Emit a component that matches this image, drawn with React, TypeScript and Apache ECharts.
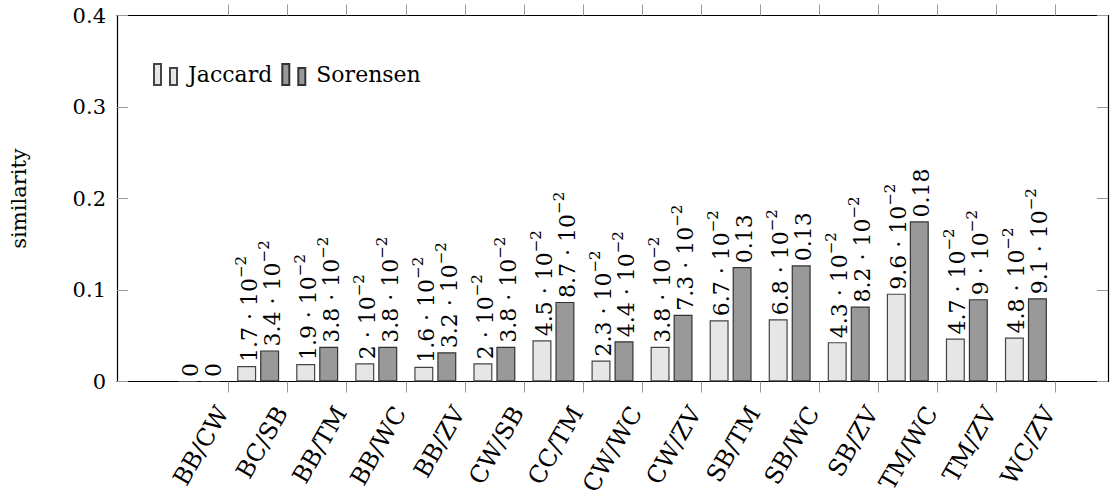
import React, { useEffect, useRef } from "react";
import * as echarts from "echarts";

const categories = [
  "BB/CW", "BC/SB", "BB/TM", "BB/WC", "BB/ZV", "CW/SB", "CC/TM", "CW/WC",
  "CW/ZV", "SB/TM", "SB/WC", "SB/ZV", "TM/WC", "TM/ZV", "WC/ZV",
];
const jaccard = [0, 0.017, 0.019, 0.02, 0.016, 0.02, 0.045, 0.023, 0.038, 0.067, 0.068, 0.043, 0.096, 0.047, 0.048];
const sorensen = [0, 0.034, 0.038, 0.038, 0.032, 0.038, 0.087, 0.044, 0.073, 0.125, 0.127, 0.082, 0.175, 0.09, 0.091];
const yTicks = [0, 0.1, 0.2, 0.3, 0.4];

const FONT = "DejaVu Serif";
const FS = 21;

function fmtValue(v: number): string {
  if (v === 0) return "{m|0}";
  if (v < 0.1) {
    const mant = Math.round(v * 1000 + 1e-9) / 10;
    return `{m|${mant} · 10}{s|−2}`;
  }
  return `{m|${(Math.round(v * 100 + 1e-9) / 100).toFixed(2)}}`;
}

const labelRich = {
  m: { fontFamily: FONT, fontSize: 22, color: "#000", lineHeight: 27, verticalAlign: "bottom" },
  s: { fontFamily: FONT, fontSize: 15, color: "#000", lineHeight: 15, verticalAlign: "top" },
};

export default function App() {
  const ref = useRef<HTMLDivElement>(null);
  useEffect(() => {
    document.body.style.margin = "0";
    if (!ref.current) return;
    const chart = echarts.init(ref.current, undefined, { renderer: "svg" });
    const tickValues = categories.map((_, i) => i + 0.5);
    const labelValues = categories.map((_, i) => i + 0.4);
    const xMin = -1.39;
    const xMax = categories.length - 1 + 1.39;
    const xCommon = {
      type: "value",
      min: xMin,
      max: xMax,
      splitLine: { show: false },
      axisLine: { show: true, onZero: false, lineStyle: { color: "#000", width: 1.2 } },
      axisTick: { show: true, inside: false, length: 11, customValues: tickValues, lineStyle: { color: "#999", width: 1 } },
    };
    const yCommon = {
      type: "value",
      min: 0,
      max: 0.4,
      interval: 0.1,
      splitLine: { show: false },
      axisLine: { show: true, onZero: false, lineStyle: { color: "#000", width: 1.2 } },
      axisTick: { show: true, inside: true, length: 11, lineStyle: { color: "#999", width: 1 } },
    };
    const mkSeries = (name: string, vals: number[], fill: string, border: string) => ({
      name,
      type: "bar",
      xAxisIndex: 0,
      yAxisIndex: 0,
      barWidth: 19,
      barGap: "21%",
      data: vals.map((v, i) => [i, v]),
      itemStyle: { color: fill, borderColor: border, borderWidth: 1.2 },
      label: {
        show: true,
        position: "top",
        rotate: 90,
        align: "left",
        verticalAlign: "middle",
        distance: 4,
        color: "#000",
        fontFamily: FONT,
        formatter: (p: any) => fmtValue(p.value[1]),
        rich: labelRich,
      },
    });
    chart.setOption({
      animation: false,
      textStyle: { fontFamily: FONT },
      grid: { left: 112, right: 2, top: 15.5, bottom: 120.5, containLabel: false },
      legend: {
        left: 148,
        top: 58,
        itemWidth: 23,
        itemHeight: 21,
        itemGap: 9,
        icon: "path://M0,0 L7,0 L7,21 L0,21 Z M16,4 L23,4 L23,21 L16,21 Z",
        textStyle: { fontFamily: FONT, fontSize: 22, color: "#000", padding: [0, 0, 0, 6] },
        data: ["Jaccard", "Sorensen"],
      },
      xAxis: [
        {
          ...xCommon,
          position: "bottom",
          axisLabel: {
            customValues: labelValues,
            rotate: 60,
            margin: 27,
            fontFamily: FONT,
            fontSize: 24,
            color: "#000",
            formatter: (v: number) => categories[Math.round(v)] ?? "",
          },
        },
        { ...xCommon, position: "top", axisLabel: { show: false } },
      ],
      yAxis: [
        {
          ...yCommon,
          position: "left",
          name: "similarity",
          nameLocation: "middle",
          nameRotate: 90,
          nameGap: 88,
          nameTextStyle: { fontFamily: FONT, fontSize: FS, color: "#000" },
          axisLabel: {
            margin: 11,
            fontFamily: FONT,
            fontSize: FS,
            color: "#000",
            customValues: yTicks,
            formatter: (v: number) => (v === 0 ? "0" : String(Number(v.toFixed(1)))),
          },
        },
        { ...yCommon, position: "right", axisLabel: { show: false } },
      ],
      series: [
        mkSeries("Jaccard", jaccard, "#e6e6e6", "#444"),
        mkSeries("Sorensen", sorensen, "#999999", "#333"),
      ],
    });
    return () => chart.dispose();
  }, []);
  return <div ref={ref} style={{ width: 1110, height: 502 }} />;
}
